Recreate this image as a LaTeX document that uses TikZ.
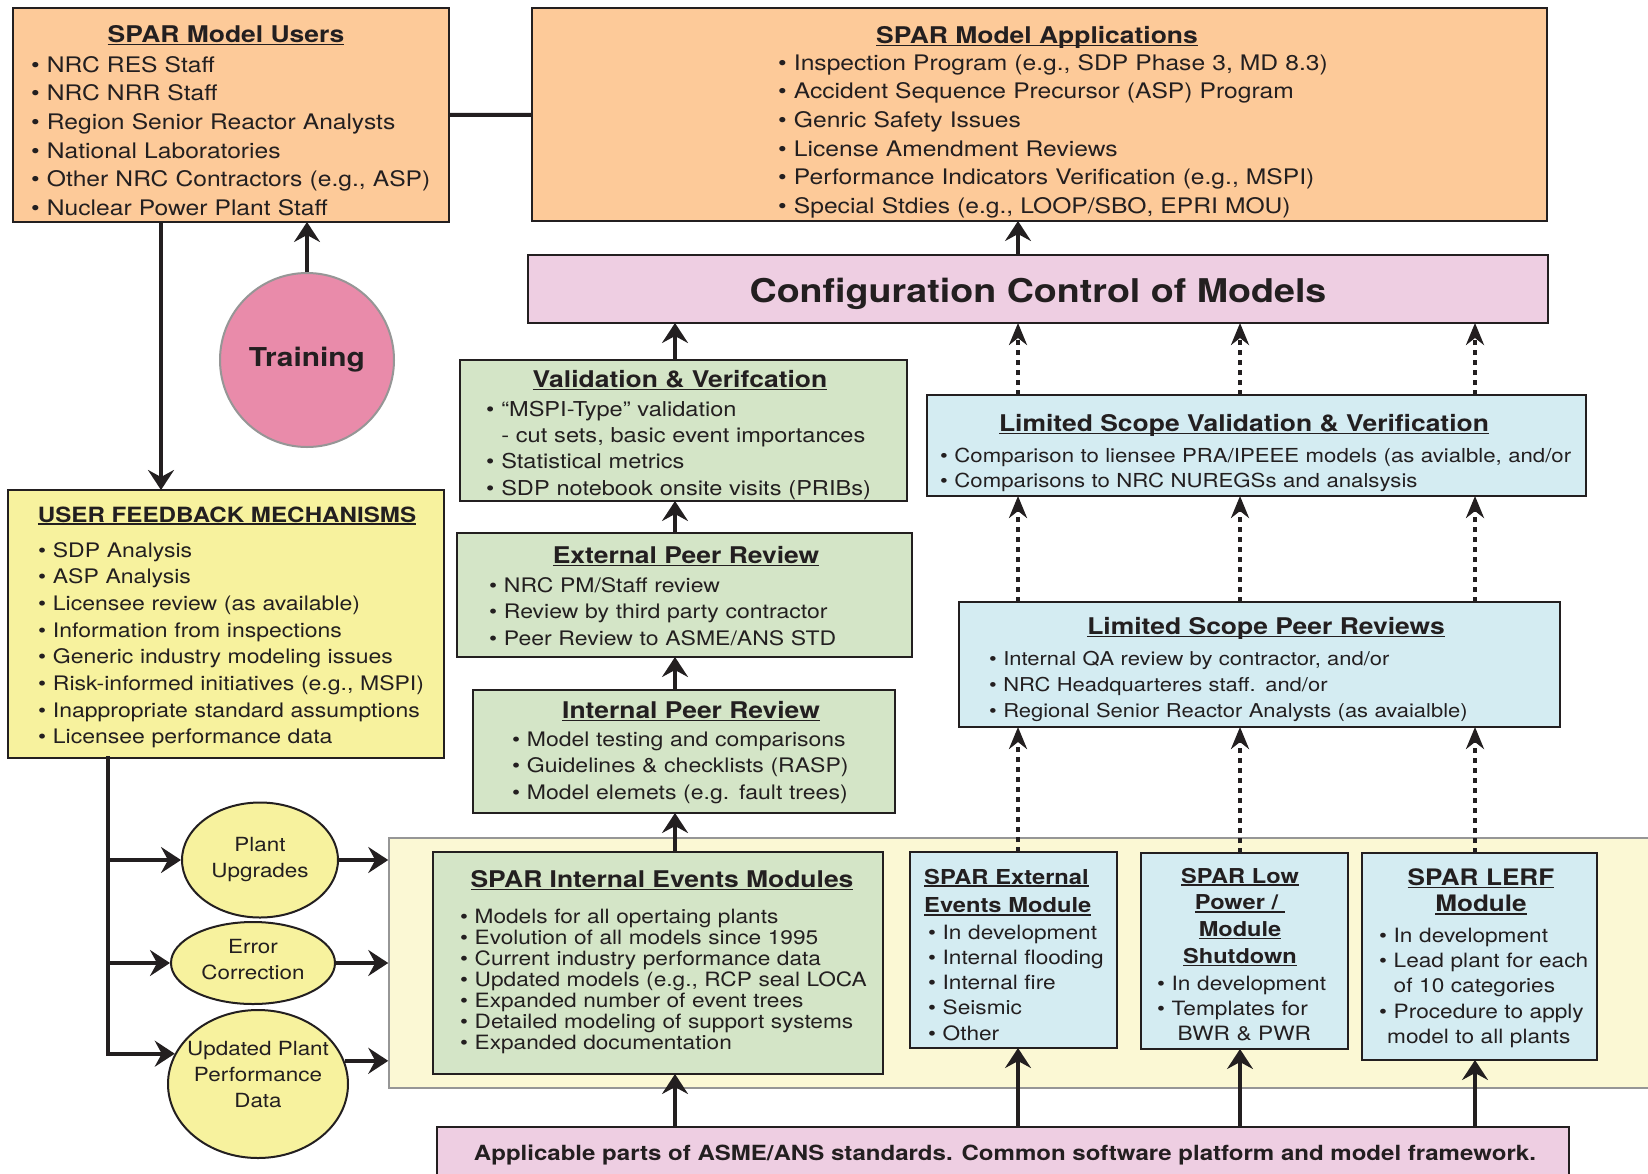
\documentclass[tikz,border=0pt]{standalone}
\usepackage{fontspec}
\setmainfont{TeX Gyre Heros}[FakeStretch=1.15]
\usetikzlibrary{arrows.meta,shapes.geometric,fit}
\definecolor{ink}{RGB}{35,31,32}
\definecolor{orng}{RGB}{253,202,153}
\definecolor{pnk}{RGB}{238,206,226}
\definecolor{grn}{RGB}{212,229,199}
\definecolor{blu}{RGB}{212,236,242}
\definecolor{ylw}{RGB}{247,242,158}
\definecolor{lyl}{RGB}{251,248,212}
\definecolor{trn}{RGB}{233,139,170}
\definecolor{gry}{RGB}{150,150,150}
\newsavebox\ulbox
\newcommand\ulx[1]{\leavevmode\sbox\ulbox{#1}\rlap{\rule[-0.14em]{\wd\ulbox}{0.07em}}\usebox\ulbox}
\newcommand\fsz[2]{\fontsize{#1}{#2}\selectfont}
\tikzset{
  boxs/.style={draw=ink, line width=2.5pt, inner sep=0pt, outer sep=0pt},
  ttl/.style={inner sep=0pt, anchor=base, text=ink, font=\bfseries\fsz{23}{27}},
  lst/.style={inner sep=0pt, anchor=base west, text=ink, align=left, text width=900pt},
  ell/.style={ellipse, draw=ink, fill=ylw, line width=2pt, inner sep=0pt},
  etxt/.style={inner sep=0pt, align=center, text=ink, font=\fsz{19.5}{26}},
  sarrow/.style={draw=ink, line width=4pt, -{Stealth[length=20pt,width=26pt,inset=7pt]}},
  darrow/.style={draw=ink, line width=3.5pt, dash pattern=on 5pt off 5pt, -{Stealth[length=22pt,width=18pt,inset=7pt]}},
  plainline/.style={draw=ink, line width=4pt},
}
\begin{document}
\begin{tikzpicture}[x=1pt,y=-1pt]
\useasboundingbox (0,0) rectangle (1648,1173);
\fill[white] (0,0) rectangle (1648,1173);

% background band
\node[draw=gry, line width=1.5pt, fill=lyl, inner sep=0pt, fit={(389,838) (1665,1088)}] (bg) {};

% boxes
\node[boxs, fill=orng, fit={(13,8) (449,222)}] (users) {};
\node[boxs, fill=orng, fit={(532,8) (1547,221)}] (apps) {};
\node[boxs, fill=pnk, fit={(528,255) (1548,323)}] (config) {};
\node[boxs, fill=grn, fit={(460,360) (907,501)}] (vv) {};
\node[boxs, fill=grn, fit={(457,533) (912,657)}] (epr) {};
\node[boxs, fill=grn, fit={(473,690) (895,813)}] (ipr) {};
\node[boxs, fill=blu, fit={(927,395) (1586,496)}] (lsvv) {};
\node[boxs, fill=blu, fit={(959,602) (1560,727)}] (lspr) {};
\node[boxs, fill=ylw, fit={(8,490) (444,758)}] (ufm) {};
\node[boxs, fill=grn, fit={(433,852) (883,1074)}] (iem) {};
\node[boxs, fill=blu, fit={(910,852) (1117,1048)}] (ext) {};
\node[boxs, fill=blu, fit={(1141,853) (1348,1049)}] (low) {};
\node[boxs, fill=blu, fit={(1362,853) (1597,1060)}] (lerf) {};
\node[boxs, fill=pnk, fit={(437,1127) (1569,1195)}] (asme) {};

% training circle
\node[circle, draw=gry, line width=2pt, fill=trn, minimum size=174pt, inner sep=0pt,
      text=ink, font=\bfseries\fsz{26}{30}] (trn) at (307,360) {Training};

% ellipses
\node[ell, minimum width=156pt, minimum height=115pt] (pu) at (260,860) {};
\node[ell, minimum width=164pt, minimum height=82pt] (ec) at (253,963) {};
\node[ell, minimum width=180pt, minimum height=148pt] (upd) at (258,1084) {};
\node[etxt] (puT) at (260,860) {Plant\\Upgrades};
\node[etxt] (ecT) at (253,960) {Error\\Correction};
\node[etxt] (updT) at (258,1075) {Updated Plant\\Performance\\Data};

% texts: users
\node[ttl] (usersT) at (226,42) {\ulx{SPAR Model Users}};
\node[lst, font=\fsz{21.4}{28.7}] (usersL) at (31,72) {%
• NRC RES Staff\\
• NRC NRR Staff\\
• Region Senior Reactor Analysts\\
• National Laboratories\\
• Other NRC Contractors (e.g., ASP)\\
• Nuclear Power Plant Staff};

% apps
\node[ttl] (appsT) at (1037,43) {\ulx{SPAR Model Applications}};
\node[lst, font=\fsz{21.4}{28.7}] (appsL) at (778,70) {%
• Inspection Program (e.g., SDP Phase 3, MD 8.3)\\
• Accident Sequence Precursor (ASP) Program\\
• Genric Safety Issues\\
• License Amendment Reviews\\
• Performance Indicators Verification (e.g., MSPI)\\
• Special Stdies (e.g., LOOP/SBO, EPRI MOU)};

% config
\node[ttl, font=\bfseries\fsz{32.7}{36}] (configT) at (1038,302) {Configuration Control of Models};

% V&V
\node[ttl] (vvT) at (680,387) {\ulx{Validation \& Verifcation}};
\node[lst, font=\fsz{20.5}{26.4}] (vvL) at (486,416) {%
• “MSPI-Type” validation\\
\phantom{• }- cut sets, basic event importances\\
• Statistical metrics\\
• SDP notebook onsite visits (PRIBs)};

% External peer review
\node[ttl] (eprT) at (686,563) {\ulx{External Peer Review}};
\node[lst, font=\fsz{20}{26.7}] (eprL) at (489,592) {%
• NRC PM/Staff review\\
• Review by third party contractor\\
• Peer Review to ASME/ANS STD};

% Internal peer review
\node[ttl] (iprT) at (691,718) {\ulx{Internal Peer Review}};
\node[lst, font=\fsz{20}{26.9}] (iprL) at (512,746) {%
• Model testing and comparisons\\
• Guidelines \& checklists (RASP)\\
• Model elemets (e.g. fault trees)};

% Limited scope V&V
\node[ttl] (lsvvT) at (1244,431) {\ulx{Limited Scope Validation \& Verification}};
\node[lst, font=\fsz{19.3}{25}] (lsvvL) at (940,462) {%
• Comparison to liensee PRA/IPEEE models (as avialble, and/or\\
• Comparisons to NRC NUREGSs and analsysis};

% Limited scope peer reviews
\node[ttl] (lsprT) at (1266,634) {\ulx{Limited Scope Peer Reviews}};
\node[lst, font=\fsz{19.1}{26.2}] (lsprL) at (989,665) {%
• Internal QA review by contractor, and/or\\
• NRC Headquarteres staff. and/or\\
• Regional Senior Reactor Analysts (as avaialble)};

% user feedback
\node[ttl, font=\bfseries\fsz{21}{25}] (ufmT) at (227,522) {\ulx{USER FEEDBACK MECHANISMS}};
\node[lst, font=\fsz{20}{26.7}] (ufmL) at (38,557) {%
• SDP Analysis\\
• ASP Analysis\\
• Licensee review (as available)\\
• Information from inspections\\
• Generic industry modeling issues\\
• Risk-informed initiatives (e.g., MSPI)\\
• Inappropriate standard assumptions\\
• Licensee performance data};

% internal events modules
\node[ttl] (iemT) at (662,887) {\ulx{SPAR Internal Events Modules}};
\node[lst, font=\fsz{19.7}{21.1}] (iemL) at (460,923) {%
• Models for all opertaing plants\\
• Evolution of all models since 1995\\
• Current industry performance data\\
• Updated models (e.g., RCP seal LOCA\\
• Expanded number of event trees\\
• Detailed modeling of support systems\\
• Expanded documentation};

% external events
\node[lst, font=\bfseries\fsz{20.6}{28.7}] (extT) at (924,884) {%
\ulx{SPAR External}\\
\ulx{Events Module}};
\node[lst, font=\fsz{19.7}{25.3}] (extL) at (928,939) {%
• In development\\
• Internal flooding\\
• Internal fire\\
• Seismic\\
• Other};

% low power
\node[inner sep=0pt, anchor=base, text=ink, align=center, text width=200pt,
      font=\bfseries\fsz{20.5}{26.7}] (lowT) at (1240,883) {%
\ulx{SPAR Low}\\
\ulx{Power /\ }\\
\ulx{Module}\\
\ulx{Shutdown}};
\node[lst, font=\fsz{19.7}{25.3}] (lowL) at (1157,990) {%
• In development\\
• Templates for\\
\phantom{• }\hspace*{6pt}BWR \& PWR};

% LERF
\node[inner sep=0pt, anchor=base, text=ink, align=center, text width=220pt,
      font=\bfseries\fsz{22.7}{26.7}] (lerfT) at (1481,885) {%
\ulx{SPAR LERF}\\
\ulx{Module}};
\node[lst, font=\fsz{19.7}{25.4}] (lerfL) at (1379,942) {%
• In development\\
• Lead plant for each\\
\phantom{• }of 10 categories\\
• Procedure to apply\\
\hspace*{8pt}model to all plants};

% ASME
\node[ttl, font=\bfseries\fsz{20.9}{25}] (asmeT) at (1005,1160) {Applicable parts of ASME/ANS standards. Common software platform and model framework.};

% column coordinates
\coordinate (cA) at (675,0);
\coordinate (cB) at (1018,0);
\coordinate (cC) at (1240,0);
\coordinate (cD) at (1475,0);
\coordinate (cL) at (108,0);
\coordinate (cU) at (161,0);

% connectors
\draw[plainline] (users) -- (apps);
\draw[sarrow] (users.south -| cU) -- (ufm.north -| cU);
\draw[sarrow] (trn.north) -- (trn.north |- users.south);
\draw[sarrow] (config.north -| cB) -- (apps.south -| cB);

\draw[sarrow] (vv.north -| cA) -- (config.south -| cA);
\draw[sarrow] (epr.north -| cA) -- (vv.south -| cA);
\draw[sarrow] (ipr.north -| cA) -- (epr.south -| cA);
\draw[sarrow] (iem.north -| cA) -- (ipr.south -| cA);
\draw[sarrow] (asme.north -| cA) -- (iem.south -| cA);

\draw[darrow] (lsvv.north -| cB) -- (config.south -| cB);
\draw[darrow] (lsvv.north -| cC) -- (config.south -| cC);
\draw[darrow] (lsvv.north -| cD) -- (config.south -| cD);
\draw[darrow] (lspr.north -| cB) -- (lsvv.south -| cB);
\draw[darrow] (lspr.north -| cC) -- (lsvv.south -| cC);
\draw[darrow] (lspr.north -| cD) -- (lsvv.south -| cD);
\draw[darrow] (ext.north -| cB) -- (lspr.south -| cB);
\draw[darrow] (low.north -| cC) -- (lspr.south -| cC);
\draw[darrow] (lerf.north -| cD) -- (lspr.south -| cD);

\draw[sarrow] (asme.north -| cB) -- (ext.south -| cB);
\draw[sarrow] (asme.north -| cC) -- (low.south -| cC);
\draw[sarrow] (asme.north -| cD) -- (lerf.south -| cD);

% feedback branches
\draw[plainline, line cap=rect] (ufm.south -| cL) -- (cL |- upd.160);
\draw[sarrow] (cL |- pu.west) -- (pu.west);
\draw[sarrow] (cL |- ec.west) -- (ec.west);
\draw[sarrow] (cL |- upd.160) -- (upd.160);

\draw[sarrow] (pu.east) -- (pu.east -| bg.west);
\draw[sarrow] (ec.east) -- (ec.east -| bg.west);
\draw[sarrow] (upd.15) -- (upd.15 -| bg.west);
\end{tikzpicture}
\end{document}
